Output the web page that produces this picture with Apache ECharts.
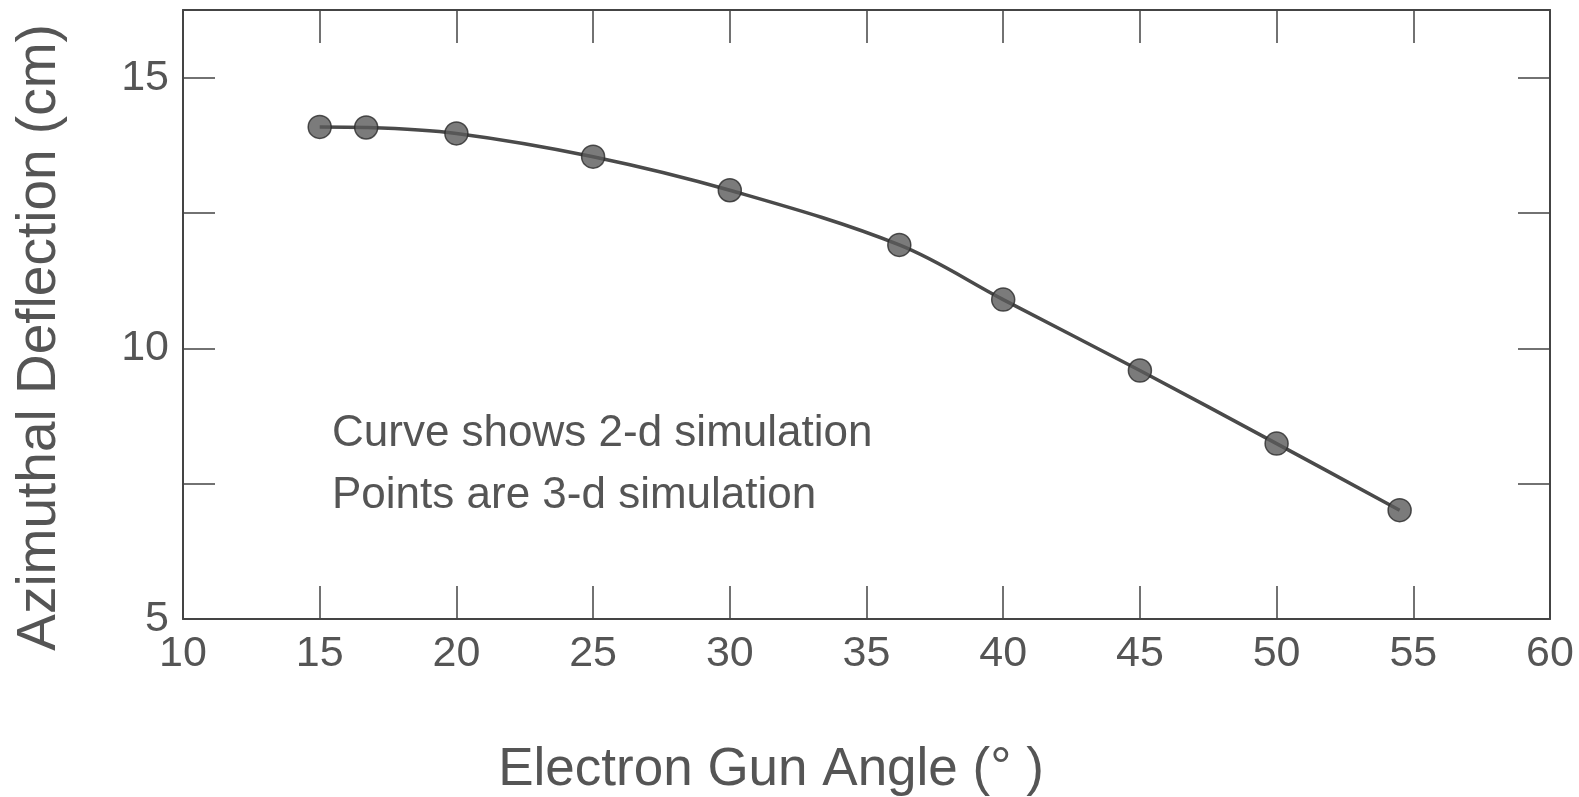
<!DOCTYPE html>
<html>
<head>
<meta charset="utf-8">
<script src="https://cdn.jsdelivr.net/npm/echarts@6/dist/echarts.min.js"></script>
<style>
html,body{margin:0;padding:0;background:#fff;}
#chart{width:1579px;height:797px;}
</style>
</head>
<body>
<div id="chart"></div>
<script>
// Data
var gunAngle = [15, 16.7, 20, 25, 30, 36.2, 40, 45, 50, 54.5];
var deflection = [14.09, 14.08, 13.97, 13.54, 12.92, 11.91, 10.90, 9.59, 8.24, 7.01];
var xTickLabels = [10, 15, 20, 25, 30, 35, 40, 45, 50, 55, 60];
var yTickLabels = [5, 10, 15];
var noteLines = ['Curve shows 2-d simulation', 'Points are 3-d simulation'];

var ink = '#555555';
var font = '"Liberation Sans", Arial, Helvetica, sans-serif';

var points = gunAngle.map(function (x, i) { return [x, deflection[i]]; });

var chart = echarts.init(document.getElementById('chart'));
chart.setOption({
  backgroundColor: '#ffffff',
  animation: false,
  grid: { left: 183, right: 29, top: 10, bottom: 178, containLabel: false, outerBoundsMode: 'none' },
  xAxis: [{
    type: 'value', min: 10, max: 60, interval: 5,
    name: 'Electron Gun Angle (° )', nameLocation: 'middle', nameGap: 125,
    nameTextStyle: { fontFamily: font, fontSize: 53, color: ink, padding: [0, 191, 0, 0] },
    axisLine: { show: true, lineStyle: { color: '#444', width: 2 } },
    axisTick: { show: true, inside: true, length: 33, lineStyle: { color: '#444', width: 1.5 } },
    axisLabel: {
      fontFamily: font, fontSize: 43, color: ink, margin: 14,
      formatter: function (v) { return xTickLabels.indexOf(v) >= 0 ? String(v) : ''; }
    },
    splitLine: { show: false }
  }, {
    type: 'value', position: 'top', min: 10, max: 60, interval: 5,
    axisLine: { show: true, lineStyle: { color: '#444', width: 2 } },
    axisTick: { show: true, inside: true, length: 33, lineStyle: { color: '#444', width: 1.5 } },
    axisLabel: { show: false }, splitLine: { show: false }
  }],
  yAxis: [{
    type: 'value', min: 5, max: 16.25, interval: 2.5,
    name: 'Azimuthal Deflection (cm)', nameLocation: 'middle', nameGap: 116,
    nameTextStyle: { fontFamily: font, fontSize: 55, color: ink, padding: [0, 46, 0, 0] },
    axisLine: { show: true, lineStyle: { color: '#444', width: 2 } },
    axisTick: { show: true, inside: true, length: 32, lineStyle: { color: '#444', width: 1.5 } },
    axisLabel: {
      fontFamily: font, fontSize: 43, color: ink, margin: 14,
      formatter: function (v) { return yTickLabels.indexOf(v) >= 0 ? String(v) : ''; }
    },
    splitLine: { show: false }
  }, {
    type: 'value', position: 'right', min: 5, max: 16.25, interval: 2.5,
    axisLine: { show: true, lineStyle: { color: '#444', width: 2 } },
    axisTick: { show: true, inside: true, length: 32, lineStyle: { color: '#444', width: 1.5 } },
    axisLabel: { show: false }, splitLine: { show: false }
  }],
  graphic: [{
    type: 'text', left: 332, top: 412,
    style: { text: noteLines[0], font: '44px ' + font, fill: ink }
  }, {
    type: 'text', left: 332, top: 474,
    style: { text: noteLines[1], font: '44px ' + font, fill: ink }
  }],
  series: [{
    name: '2-d simulation', type: 'line', data: points, smooth: 0.35,
    showSymbol: false, symbol: 'none',
    lineStyle: { color: '#4a4a4a', width: 3.5 }, z: 2
  }, {
    name: '3-d simulation', type: 'scatter', data: points,
    symbol: 'circle', symbolSize: 23,
    itemStyle: { color: '#5a5a5a', borderColor: '#2a2a2a', borderWidth: 1.5 }, z: 3
  }]
});
</script>
</body>
</html>
